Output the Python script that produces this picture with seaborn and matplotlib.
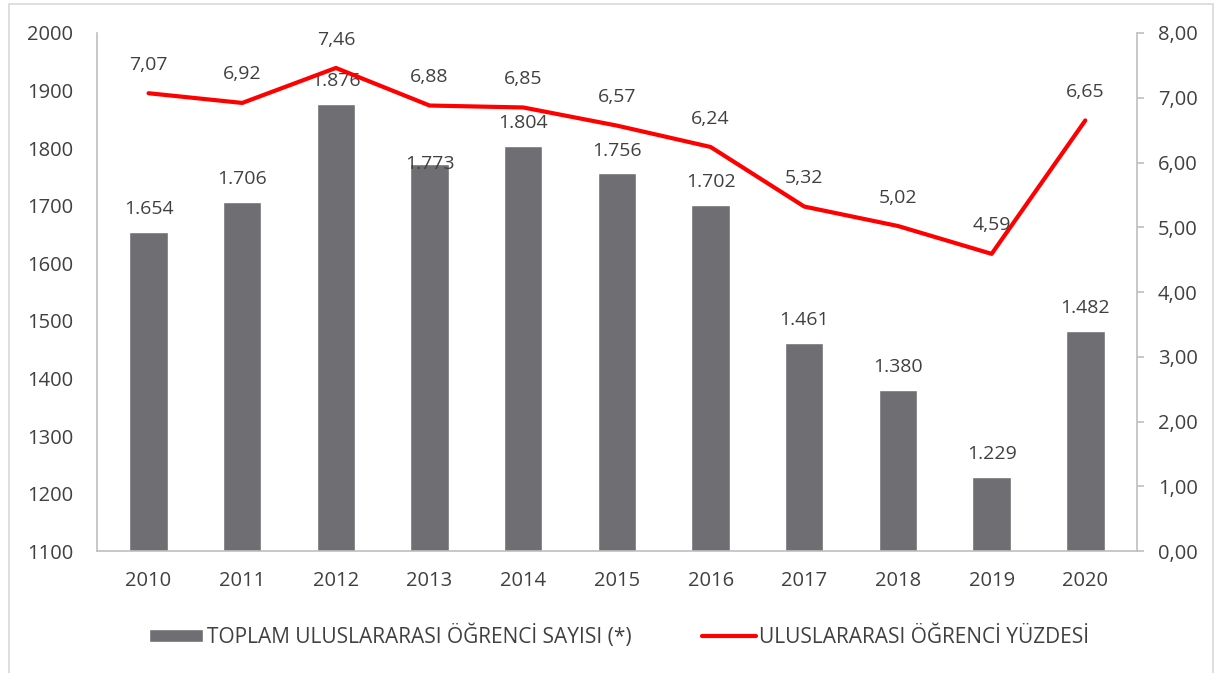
import matplotlib.pyplot as plt
import matplotlib.patches as patches
import seaborn as sns
import pandas as pd

years = ['2010', '2011', '2012', '2013', '2014', '2015', '2016', '2017', '2018', '2019', '2020']
students = [1654, 1706, 1876, 1773, 1804, 1756, 1702, 1461, 1380, 1229, 1482]
percent = [7.07, 6.92, 7.46, 6.88, 6.85, 6.57, 6.24, 5.32, 5.02, 4.59, 6.65]
left_ticks = list(range(1100, 2001, 100))
right_ticks = list(range(0, 9))

bar_label = 'TOPLAM ULUSLARARASI ÖĞRENCİ SAYISI (*)'
line_label = 'ULUSLARARASI ÖĞRENCİ YÜZDESİ'

df = pd.DataFrame({'year': years, 'students': students, 'percent': percent})
df['pos'] = range(len(df))

sns.set_style('white')
plt.rcParams['font.family'] = ['Open Sans', 'DejaVu Sans']
txt = '#404040'
axis_gray = '#bfbfbf'

fig = plt.figure(figsize=(12.19, 6.73), dpi=100)
ax = fig.add_axes([0.0796, 0.181, 0.853, 0.770])

sns.barplot(data=df, x='year', y='students', color='#6f6e73', width=0.41,
            saturation=1, ax=ax, label=bar_label)
if ax.get_legend() is not None:
    ax.get_legend().remove()
ax.set_ylim(1100, 2000)
ax.set_yticks(left_ticks)
ax.set_xlim(-0.55, len(years) - 0.45)
ax.set_xlabel('')
ax.set_ylabel('')
ax.tick_params(axis='y', length=0, colors=txt, labelsize=14.5, pad=17)
ax.tick_params(axis='x', length=0, colors=txt, labelsize=14.5, pad=14)
for s in ['top', 'right']:
    ax.spines[s].set_visible(False)
for s in ['left', 'bottom']:
    ax.spines[s].set_color(axis_gray)
    ax.spines[s].set_linewidth(1.2)

# Excel put the 2013 label right on the bar top
for i, v in enumerate(students):
    if years[i] == '2013':
        ax.annotate(f'{v/1000:.3f}', (i, v), ha='center', va='center',
                    fontsize=14, color=txt)
    else:
        ax.annotate(f'{v/1000:.3f}', (i, v), xytext=(0, 10), textcoords='offset points',
                    ha='center', va='bottom', fontsize=14, color=txt)

ax2 = ax.twinx()
sns.lineplot(data=df, x='pos', y='percent', color='#ff0000', linewidth=3,
             ax=ax2, label=line_label, legend=False)
ax2.set_ylim(0, 8)
ax2.set_yticks(right_ticks)
ax2.set_yticklabels([f'{t:.2f}'.replace('.', ',') for t in right_ticks])
ax2.set_ylabel('')
ax2.tick_params(axis='y', direction='out', length=5, width=1.2, color=axis_gray,
                labelcolor=txt, labelsize=14.5, pad=10)
for s in ['top', 'left', 'bottom']:
    ax2.spines[s].set_visible(False)
ax2.spines['right'].set_color(axis_gray)
ax2.spines['right'].set_linewidth(1.2)

for i, v in enumerate(percent):
    ax2.annotate(f'{v:.2f}'.replace('.', ','), (i, v), xytext=(0, 14),
                 textcoords='offset points', ha='center', va='bottom',
                 fontsize=14, color=txt)

h1, l1 = ax.get_legend_handles_labels()
h2, l2 = ax2.get_legend_handles_labels()
fig.legend(h1 + h2, l1 + l2, loc='center', bbox_to_anchor=(0.508, 0.055), ncol=2,
           frameon=False, fontsize=15, labelcolor=txt, columnspacing=3.4,
           handlelength=2.6, handleheight=0.55, handletextpad=0.15)

fig.patches.append(patches.Rectangle((9 / 1219, -0.01), 1204 / 1219, 1 - 4 / 673 + 0.01,
                                     transform=fig.transFigure, fill=False,
                                     edgecolor='#d9d9d9', linewidth=1.2))

fig.savefig('out.png', dpi=100)
